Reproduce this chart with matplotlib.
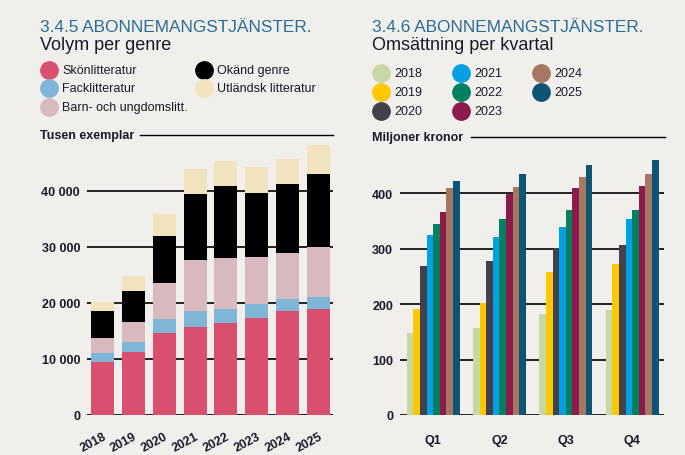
import matplotlib
matplotlib.use("Agg")
import matplotlib.pyplot as plt
from matplotlib.lines import Line2D
import numpy as np

# Volym per genre (tusen exemplar)
years = ["2018", "2019", "2020", "2021", "2022", "2023", "2024", "2025"]
genres = ["Skönlitteratur", "Facklitteratur", "Barn- och ungdomslitt.", "Okänd genre", "Utländsk litteratur"]
skon = [9500, 11300, 14700, 15800, 16500, 17400, 18600, 19000]
fack = [1500, 1800, 2500, 2850, 2500, 2500, 2150, 2150]
barn = [2800, 3550, 6450, 9100, 9100, 8400, 8200, 8900]
okand = [4700, 5550, 8250, 11800, 12850, 11400, 12300, 13050]
utl = [1700, 2700, 4050, 4300, 4450, 4650, 4450, 5200]
genre_colors = ["#d9506f", "#7fb5d7", "#d8b9bf", "#000000", "#f1e3bd"]

# Omsättning per kvartal (miljoner kronor)
quarters = ["Q1", "Q2", "Q3", "Q4"]
rev_years = ["2018", "2019", "2020", "2021", "2022", "2023", "2024", "2025"]
rev = {
    "2018": [148, 158, 182, 189],
    "2019": [191, 202, 258, 272],
    "2020": [269, 278, 301, 307],
    "2021": [325, 321, 339, 354],
    "2022": [345, 354, 370, 370],
    "2023": [366, 399, 410, 413],
    "2024": [410, 411, 430, 435],
    "2025": [422, 435, 451, 460],
}
year_colors = ["#c8d7a5", "#ffc800", "#43424c", "#00a0e3", "#00805f", "#8c1a4b", "#a77763", "#0e5475"]

BG = "#f0efeb"
TITLE = "#2a6d96"
DARK = "#1a1a2a"
plt.rcParams["font.family"] = ["Liberation Sans", "DejaVu Sans"]

W, H = 685, 456
fig = plt.figure(figsize=(W / 100, H / 100), dpi=100, facecolor=BG)

def fx(px):
    return px / W

def fy(py):
    return 1 - py / H

def px_axes(x0, y0, x1, y1):
    # pixel box (top-left origin) -> figure fractions
    return fig.add_axes([fx(x0), fy(y1), (x1 - x0) / W, (y1 - y0) / H])

def style(ax):
    ax.set_facecolor(BG)
    for s in ax.spines.values():
        s.set_visible(False)
    ax.grid(axis="y", color="black", lw=1.2)
    ax.set_axisbelow(True)
    ax.tick_params(length=0, labelsize=9, colors=DARK)
    for lab in ax.get_yticklabels() + ax.get_xticklabels():
        lab.set_fontweight("bold")

# ---- left chart
ax1 = px_axes(87, 143, 333, 416)
x = np.arange(len(years))
bottom = np.zeros(len(years))
for vals, col in zip([skon, fack, barn, okand, utl], genre_colors):
    ax1.bar(x, vals, width=0.745, bottom=bottom, color=col, zorder=3)
    bottom += np.array(vals)
ax1.set_ylim(0, 48750)
ax1.set_xlim(-0.5, 7.47)
ax1.set_yticks([0, 10000, 20000, 30000, 40000])
ax1.set_yticklabels(["0", "10 000", "20 000", "30 000", "40 000"])
ax1.set_xticks(x)
ax1.set_xticklabels(years, rotation=28, ha="right", rotation_mode="anchor")
ax1.tick_params(axis="x", pad=11)
ax1.tick_params(axis="y", pad=5)
style(ax1)

# ---- right chart
ax2 = px_axes(400, 143, 664, 416)
q = np.arange(len(quarters))
bw = 0.1
for i, (yr, col) in enumerate(zip(rev_years, year_colors)):
    ax2.bar(q - 3.5 * bw + i * bw, rev[yr], width=bw, color=col, zorder=3)
ax2.set_ylim(0, 493)
ax2.set_xlim(-0.5, 3.48)
ax2.set_yticks([0, 100, 200, 300, 400])
ax2.set_xticks(q)
ax2.set_xticklabels(quarters)
ax2.tick_params(axis="x", pad=14)
ax2.tick_params(axis="y", pad=5)
style(ax2)

# ---- titles
for x0, sub in [(40, "Volym per genre"), (372, "Omsättning per kvartal")]:
    num = "3.4.5" if x0 == 40 else "3.4.6"
    fig.text(fx(x0), fy(32), num + " ABONNEMANGSTJÄNSTER.", color=TITLE, fontsize=12.4, va="baseline")
    fig.text(fx(x0), fy(50), sub, color=DARK, fontsize=13, va="baseline")

# axis captions with rule
fig.text(fx(40), fy(136), "Tusen exemplar", fontsize=9, fontweight="bold", va="center", color=DARK)
fig.add_artist(Line2D([fx(140), fx(333)], [fy(136), fy(136)], color="black", lw=1))
fig.text(fx(372), fy(138), "Miljoner kronor", fontsize=9, fontweight="bold", va="center", color=DARK)
fig.add_artist(Line2D([fx(471), fx(665)], [fy(138), fy(138)], color="black", lw=1))

# ---- legends (column-major, circle markers)
def legend(labels, colors, col_x, row_y):
    nrows = len(row_y)
    for i, (lab, col) in enumerate(zip(labels, colors)):
        cx = col_x[i // nrows]
        cy = row_y[i % nrows]
        fig.add_artist(Line2D([fx(cx)], [fy(cy)], ls="", marker="o", markersize=12.5,
                              markerfacecolor=col, markeredgecolor=col))
        fig.text(fx(cx + 13), fy(cy), lab, fontsize=9, va="center", color=DARK)

legend(genres, genre_colors, [49, 204], [71, 89, 108])
legend(rev_years, year_colors, [381, 461, 541], [74, 93, 112])

fig.savefig("out.png", dpi=100, facecolor=BG)
